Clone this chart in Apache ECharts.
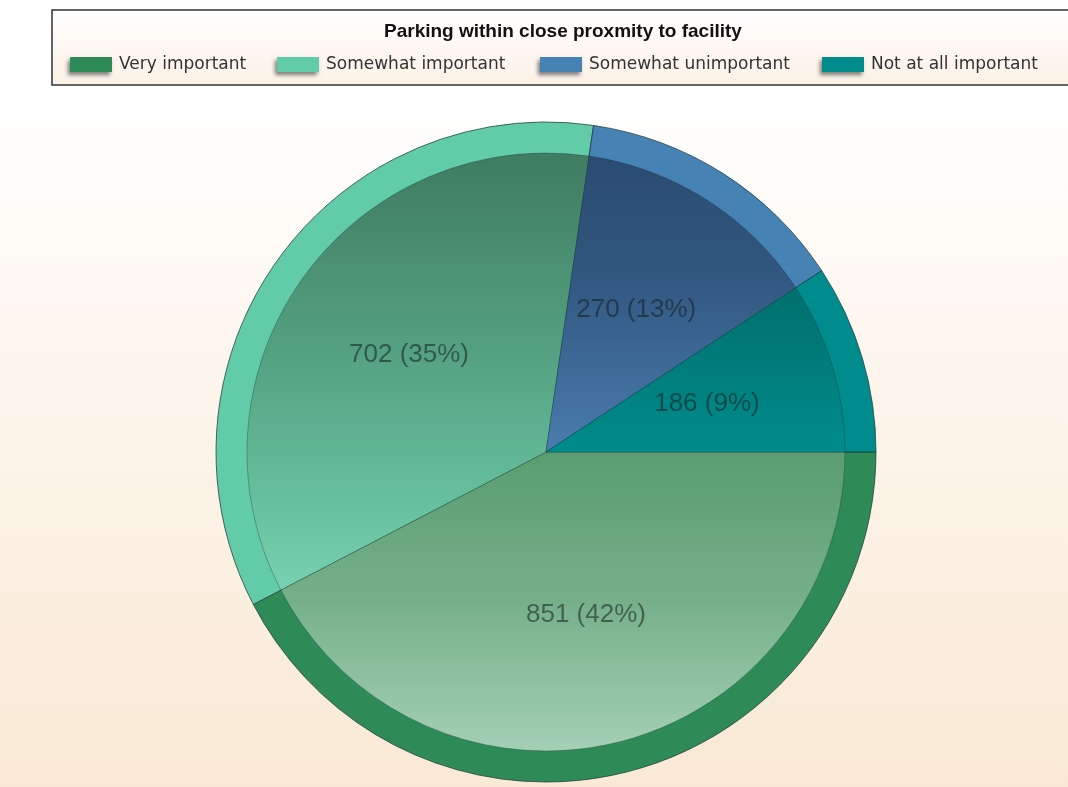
<!DOCTYPE html>
<html>
<head>
<meta charset="utf-8">
<script src="https://cdn.jsdelivr.net/npm/echarts@6/dist/echarts.min.js"></script>
<style>
html,body{margin:0;padding:0;background:#fff;}
#chart{width:1068px;height:787px;}
</style>
</head>
<body>
<div id="chart"></div>
<script>
const titleText = 'Parking within close proxmity to facility';
const categories = ['Very important', 'Somewhat important', 'Somewhat unimportant', 'Not at all important'];
const values = [851, 702, 270, 186];

const rimColors = ['#2E8B57', '#62CCA8', '#4682B4', '#008C8C'];
const legendLefts = [70, 277, 540, 822];

const chart = echarts.init(document.getElementById('chart'), null, {renderer: 'canvas'});

function grad(stops) {
  return new echarts.graphic.LinearGradient(0, 150, 0, 752,
    stops.map(s => ({offset: s[0], color: s[1]})), true);
}
const innerGradients = [
  grad([[0, '#3f7d58'], [0.5, '#5a9c70'], [0.75, '#76b08b'], [1, '#a4d0b5']]),
  grad([[0, '#3f7c61'], [0.12, '#46886c'], [0.35, '#55a383'], [0.6, '#68c29f'], [0.8, '#80d8b8'], [1, '#90e2c4']]),
  grad([[0, '#2b4b70'], [0.2, '#30567f'], [0.5, '#4a7cad'], [1, '#6a9ccc']]),
  grad([[0, '#005e5c'], [0.2, '#006c6a'], [0.5, '#008c8b'], [1, '#20a9a8']])
];

const rimData = categories.map((c, i) => ({name: c, value: values[i], itemStyle: {color: rimColors[i]}}));
const innerData = categories.map((c, i) => ({name: c, value: values[i], itemStyle: {color: innerGradients[i]}}));

const legends = categories.map((c, i) => ({
  data: [c],
  left: legendLefts[i],
  top: 56,
  padding: 0,
  itemWidth: 42,
  itemHeight: 15,
  icon: 'rect',
  selectedMode: false,
  itemStyle: {shadowBlur: 4, shadowColor: 'rgba(0,0,0,0.5)', shadowOffsetX: -2, shadowOffsetY: 3, borderWidth: 0},
  textStyle: {fontFamily: 'DejaVu Sans', fontSize: 17, color: '#333', padding: [0, 0, 0, 2]}
}));

chart.setOption({
  animation: false,
  graphic: [
    {
      type: 'rect', z: -10, silent: true,
      shape: {x: 0, y: 0, width: 1068, height: 787},
      style: {fill: new echarts.graphic.LinearGradient(0, 0, 0, 1, [
        {offset: 0, color: '#ffffff'}, {offset: 0.12, color: '#ffffff'},
        {offset: 0.5, color: '#fdf5ec'}, {offset: 1, color: '#f9e9d5'}])}
    },
    {
      type: 'rect', z: -5, silent: true,
      shape: {x: 52, y: 10, width: 1030, height: 75},
      style: {fill: new echarts.graphic.LinearGradient(0, 0, 0, 1, [
        {offset: 0, color: '#ffffff'}, {offset: 1, color: '#fcf1e6'}]),
        stroke: '#333', lineWidth: 1.5}
    }
  ],
  title: {
    text: titleText,
    left: 384, top: 22, padding: 0,
    textStyle: {fontFamily: 'Liberation Sans', fontWeight: 'bold', fontSize: 19, color: '#111'}
  },
  legend: legends,
  series: [
    {
      type: 'pie',
      name: 'rim',
      center: [546, 452],
      radius: [0, 330],
      startAngle: 0,
      clockwise: true,
      silent: true,
      percentPrecision: 2,
      itemStyle: {borderColor: 'rgba(30,60,60,0.75)', borderWidth: 1},
      label: {
        show: true, position: 'inside',
        formatter: p => p.value + ' (' + Math.round(p.percent) + '%)',
        fontFamily: 'Liberation Sans', fontSize: 26,
        color: 'rgba(20,30,30,0.55)', textBorderWidth: 0
      },
      labelLine: {show: false},
      data: rimData,
      z: 2
    },
    {
      type: 'pie',
      name: 'inner',
      center: [546, 452],
      radius: [0, 299],
      startAngle: 0,
      clockwise: true,
      silent: true,
      itemStyle: {borderColor: 'rgba(20,55,55,0.35)', borderWidth: 1},
      label: {show: false},
      labelLine: {show: false},
      data: innerData,
      z: 2
    }
  ]
});
</script>
</body>
</html>
